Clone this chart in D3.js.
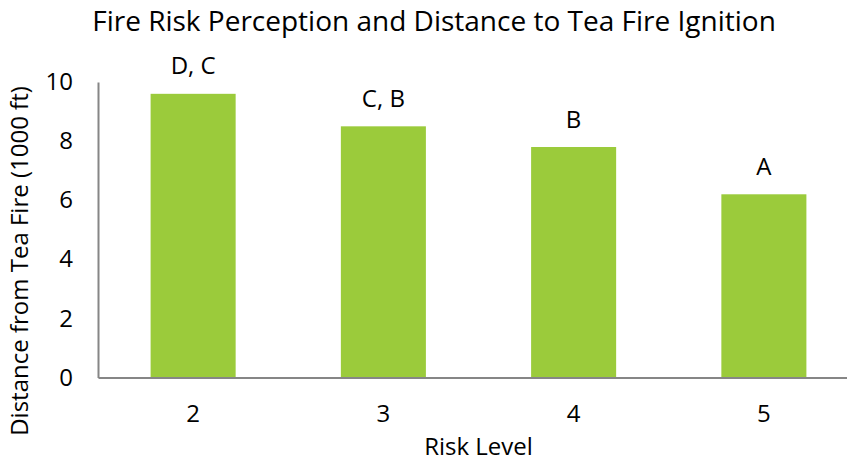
<!DOCTYPE html>
<html>
<head>
<meta charset="utf-8">
<script src="https://cdn.jsdelivr.net/npm/d3@7"></script>
<style>
  html, body { margin: 0; padding: 0; background: #fff; }
  svg { display: block; font-family: "Open Sans", "Noto Sans", sans-serif; }
</style>
</head>
<body>
<svg id="chart" width="847" height="465"></svg>
<script>
// Mean distance from the Tea Fire ignition point by perceived risk level
const riskLevels = ["2", "3", "4", "5"];
const distances = [9.6, 8.5, 7.8, 6.2];          // thousands of feet
const groupLetters = ["D, C", "C, B", "B", "A"];   // significance groups
const yTicks = [0, 2, 4, 6, 8, 10];

const svg = d3.select("#chart");
const plot = { left: 98, right: 859, top: 82, bottom: 377.5 };
const fontFamily = '"Open Sans", "Noto Sans", sans-serif';

const x = d3.scaleBand()
  .domain(riskLevels)
  .range([plot.left, plot.right])
  .paddingInner(0.553)
  .paddingOuter(0.2765);

const y = d3.scaleLinear()
  .domain([0, 10])
  .range([plot.bottom, plot.top]);

const barColor = "#9bcb3b";
const axisColor = "#868686";
const textColor = "#000";

// Title
svg.append("text")
  .attr("x", 434).attr("y", 31)
  .attr("text-anchor", "middle")
  .attr("font-size", 28)
  .attr("fill", textColor)
  .text("Fire Risk Perception and Distance to Tea Fire Ignition");

// Bars
svg.append("g").selectAll("rect")
  .data(riskLevels)
  .join("rect")
  .attr("x", d => x(d))
  .attr("width", x.bandwidth())
  .attr("y", (d, i) => y(distances[i]))
  .attr("height", (d, i) => y(0) - y(distances[i]))
  .attr("fill", barColor);

// Group letters above bars
svg.append("g").selectAll("text")
  .data(riskLevels)
  .join("text")
  .attr("x", d => x(d) + x.bandwidth() / 2)
  .attr("y", (d, i) => y(distances[i]) - 19.5)
  .attr("text-anchor", "middle")
  .attr("font-size", 24)
  .attr("fill", textColor)
  .text((d, i) => groupLetters[i]);

// Y axis
const yAxis = svg.append("g")
  .attr("transform", `translate(${plot.left},0)`)
  .call(d3.axisLeft(y).tickValues(yTicks).tickSize(0).tickPadding(25).tickFormat(d3.format("d")));
yAxis.select(".domain").attr("stroke", axisColor).attr("stroke-width", 2);
yAxis.selectAll("text").attr("font-size", 24).attr("fill", textColor)
  .attr("font-family", fontFamily);

// X axis
const xAxis = svg.append("g")
  .attr("transform", `translate(0,${plot.bottom})`)
  .call(d3.axisBottom(x).tickSize(0).tickPadding(27));
xAxis.select(".domain").attr("stroke", axisColor).attr("stroke-width", 2);
xAxis.selectAll("text").attr("font-size", 24).attr("fill", textColor)
  .attr("font-family", fontFamily);

// Axis titles
svg.append("text")
  .attr("x", (plot.left + plot.right) / 2).attr("y", 455)
  .attr("text-anchor", "middle")
  .attr("font-size", 24)
  .attr("fill", textColor)
  .text("Risk Level");

svg.append("text")
  .attr("transform", "translate(28,261) rotate(-90)")
  .attr("text-anchor", "middle")
  .attr("font-size", 24)
  .attr("fill", textColor)
  .text("Distance from Tea Fire (1000 ft)");
</script>
</body>
</html>
